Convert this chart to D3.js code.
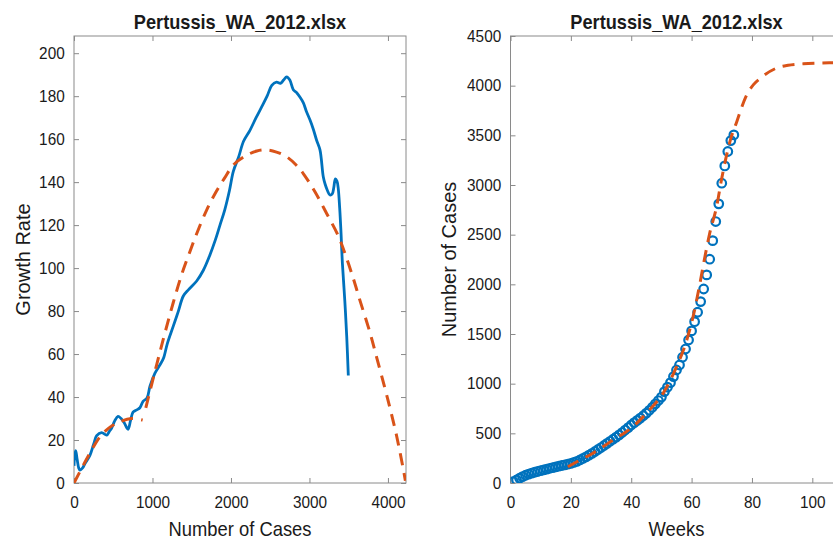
<!DOCTYPE html>
<html>
<head>
<meta charset="utf-8">
<script src="https://cdn.jsdelivr.net/npm/d3@7"></script>
<style>
  html, body { margin: 0; padding: 0; background: #fff; }
  svg { display: block; }
  text { font-family: "Liberation Sans", Arial, Helvetica, sans-serif; fill: #1a1a1a; }
</style>
</head>
<body>
<script>
// ---------------- DATA ----------------
const chartTitle = "Pertussis_WA_2012.xlsx";

// Left panel: growth rate vs cumulative number of cases (observed, smoothed)
const rateCases = [0, 10, 22, 40, 60, 76, 110, 140, 204, 250, 289, 352, 416, 450, 480, 520, 560, 600, 640, 688, 720, 752, 800, 840, 880, 930, 968, 1030, 1096, 1140, 1190, 1265, 1330, 1393, 1460, 1563, 1648, 1720, 1800, 1860, 1920, 1980, 2030, 2100, 2160, 2240, 2320, 2391, 2460, 2520, 2580, 2630, 2670, 2710, 2750, 2794, 2840, 2880, 2921, 2960, 3006, 3050, 3091, 3134, 3176, 3200, 3230, 3261, 3290, 3310, 3330, 3350, 3367, 3385, 3400, 3420, 3450, 3475, 3495];
const rateValues = [8, 13, 15, 11, 7, 6, 7, 9, 13, 18, 22, 23.4, 22.3, 24, 25.6, 29, 31, 30, 28, 25, 29, 33, 34, 35, 38, 39.5, 45, 51, 55, 58, 65, 73, 80, 87, 90, 94, 99, 105, 113, 120, 127, 136, 145, 152, 159, 164, 170, 175, 180, 185, 186.5, 186, 187.5, 189, 187.5, 183, 181.5, 179.5, 177, 173, 169, 164.5, 159.5, 155, 142.5, 139, 136, 134, 134.5, 137.5, 141.5, 140.5, 137, 128, 118, 102, 85, 68, 50];

// Left panel: fitted growth rate (two waves)
const fit1Cases = [0, 100, 204, 331, 459, 586, 735, 875];
const fit1Values = [0, 7, 14, 21.5, 26, 28.5, 30, 29.3];
const fit2Cases = [915, 1053, 1160, 1265, 1372, 1480, 1563, 1690, 1818, 1920, 2030, 2200, 2330, 2455, 2580, 2709, 2830, 2921, 3070, 3219, 3367, 3474, 3560, 3643, 3771, 3856, 3962, 4025, 4110, 4208, 4222];
const fit2Values = [35, 55, 70, 84, 97, 108, 116, 127, 136, 142, 148, 152.5, 154.5, 155, 154, 151.8, 148, 144, 135.5, 125.4, 115, 104.5, 95, 85, 70, 58.5, 44, 35, 22, 4, 1];

// Right panel: cumulative cases by week (observed)
const weeks = d3.range(1, 75);
const cumCases = [13, 30, 48, 64, 78, 90, 100, 108, 116, 124, 132, 140, 148, 155, 162, 169, 176, 183, 190, 198, 207, 218, 232, 247, 263, 280, 298, 317, 337, 357, 378, 399, 420, 441, 462, 484, 508, 533, 558, 584, 608, 630, 653, 677, 703, 732, 763, 797, 830, 865, 920, 965, 1010, 1071, 1138, 1188, 1266, 1349, 1440, 1531, 1624, 1719, 1826, 1953, 2095, 2253, 2440, 2632, 2810, 3018, 3192, 3337, 3447, 3504];

// Right panel: fitted cumulative curve
const fitWeeks = [19, 22, 27, 34, 40.5, 46, 50.5, 55, 58, 60.5, 62.7, 64, 66, 68.3, 70, 72.7, 75, 78, 80.5, 83, 88, 92, 97, 102, 106, 110];
const fitCum = [164, 214, 295, 433, 565, 735, 900, 1170, 1400, 1675, 2000, 2212, 2514, 2783, 3068, 3437, 3640, 3890, 4010, 4080, 4175, 4205, 4220, 4227, 4230, 4232];

const leftXTicks = [0, 1000, 2000, 3000, 4000];
const leftYTicks = [0, 20, 40, 60, 80, 100, 120, 140, 160, 180, 200];
const rightXTicks = [0, 20, 40, 60, 80, 100];
const rightYTicks = [0, 500, 1000, 1500, 2000, 2500, 3000, 3500, 4000, 4500];

// ---------------- STYLE ----------------
const BLUE = "#0072BD", ORANGE = "#D95319", AXIS = "#8a8a8a";
const W = 833, H = 540;

const svg = d3.select("body").append("svg").attr("width", W).attr("height", H);

function drawPanel(cfg) {
  const x = d3.scaleLinear().domain(cfg.xDomain).range([cfg.x0, cfg.x1]);
  const y = d3.scaleLinear().domain(cfg.yDomain).range([cfg.y1, cfg.y0]);
  const g = svg.append("g");

  const clipId = "clip" + cfg.id;
  svg.append("clipPath").attr("id", clipId).append("rect")
    .attr("x", cfg.x0).attr("y", cfg.y0).attr("width", cfg.x1 - cfg.x0).attr("height", cfg.y1 - cfg.y0);

  const styleAxis = (sel, labels) => {
    sel.select(".domain").remove();
    sel.selectAll(".tick line").attr("stroke", AXIS).attr("stroke-width", 1);
    if (labels) {
      sel.selectAll(".tick text").attr("font-size", 16.5).attr("fill", "#1a1a1a")
        .attr("font-family", "Liberation Sans, Arial, sans-serif");
    } else {
      sel.selectAll(".tick text").remove();
    }
  };

  // axes (ticks inward on all sides)
  const bottom = g.append("g").attr("transform", `translate(0,${cfg.y1})`)
    .call(d3.axisBottom(x).tickValues(cfg.xTicks).tickSize(-5).tickPadding(13).tickFormat(d3.format("d")));
  styleAxis(bottom, true);
  bottom.selectAll(".tick text").attr("transform", "scale(0.93,1)");
  const top = g.append("g").attr("transform", `translate(0,${cfg.y0})`)
    .call(d3.axisTop(x).tickValues(cfg.xTicks).tickSize(-5));
  styleAxis(top, false);
  const left = g.append("g").attr("transform", `translate(${cfg.x0},0)`)
    .call(d3.axisLeft(y).tickValues(cfg.yTicks).tickSize(-5).tickPadding(10).tickFormat(d3.format("d")));
  styleAxis(left, true);
  left.selectAll(".tick text").attr("transform", "scale(0.93,1)");
  const right = g.append("g").attr("transform", `translate(${cfg.x1},0)`)
    .call(d3.axisRight(y).tickValues(cfg.yTicks).tickSize(-5));
  styleAxis(right, false);

  // box
  g.append("rect").attr("x", cfg.x0).attr("y", cfg.y0)
    .attr("width", cfg.x1 - cfg.x0).attr("height", cfg.y1 - cfg.y0)
    .attr("fill", "none").attr("stroke", AXIS).attr("stroke-width", 1);

  // title
  g.append("text").attr("transform", `translate(${(cfg.x0 + cfg.x1) / 2},29) scale(0.91,1)`)
    .attr("text-anchor", "middle").attr("font-weight", "bold").attr("font-size", 20)
    .text(chartTitle);
  // x label
  g.append("text").attr("transform", `translate(${(cfg.x0 + cfg.x1) / 2},536) scale(0.92,1)`)
    .attr("text-anchor", "middle").attr("font-size", 20).text(cfg.xLabel);
  // y label
  g.append("text").attr("transform", `translate(${cfg.yLabelX},${(cfg.y0 + cfg.y1) / 2}) rotate(-90)`)
    .attr("text-anchor", "middle").attr("font-size", 20).text(cfg.yLabel);

  const plot = svg.append("g").attr("clip-path", `url(#${clipId})`);
  return { x, y, plot };
}

// ---------------- LEFT PANEL ----------------
const L = drawPanel({
  id: "L", x0: 74, x1: 406, y0: 36, y1: 483,
  xDomain: [0, 4230], yDomain: [0, 208],
  xTicks: leftXTicks, yTicks: leftYTicks,
  xLabel: "Number of Cases", yLabel: "Growth Rate", yLabelX: 30
});
const lineL = d3.line().x(d => L.x(d[0])).y(d => L.y(d[1])).curve(d3.curveCatmullRom.alpha(0.5));
L.plot.append("path").datum(d3.zip(rateCases, rateValues))
  .attr("d", lineL).attr("fill", "none").attr("stroke", BLUE).attr("stroke-width", 2.8)
  .attr("stroke-linejoin", "round");
[[fit1Cases, fit1Values], [fit2Cases, fit2Values]].forEach(([xs, ys]) => {
  L.plot.append("path").datum(d3.zip(xs, ys))
    .attr("d", lineL).attr("fill", "none").attr("stroke", ORANGE).attr("stroke-width", 3)
    .attr("stroke-dasharray", "12,8");
});

// ---------------- RIGHT PANEL ----------------
const R = drawPanel({
  id: "R", x0: 510.5, x1: 842.5, y0: 36, y1: 483,
  xDomain: [0, 110], yDomain: [0, 4500],
  xTicks: rightXTicks, yTicks: rightYTicks,
  xLabel: "Weeks", yLabel: "Number of Cases", yLabelX: 456
});
R.plot.selectAll("circle").data(d3.zip(weeks, cumCases)).join("circle")
  .attr("cx", d => R.x(d[0])).attr("cy", d => R.y(d[1])).attr("r", 4.3)
  .attr("fill", "none").attr("stroke", BLUE).attr("stroke-width", 2.2);
const lineR = d3.line().x(d => R.x(d[0])).y(d => R.y(d[1])).curve(d3.curveMonotoneX);
R.plot.append("path").datum(d3.zip(fitWeeks, fitCum))
  .attr("d", lineR).attr("fill", "none").attr("stroke", ORANGE).attr("stroke-width", 3)
  .attr("stroke-dasharray", "12,8");
</script>
</body>
</html>
